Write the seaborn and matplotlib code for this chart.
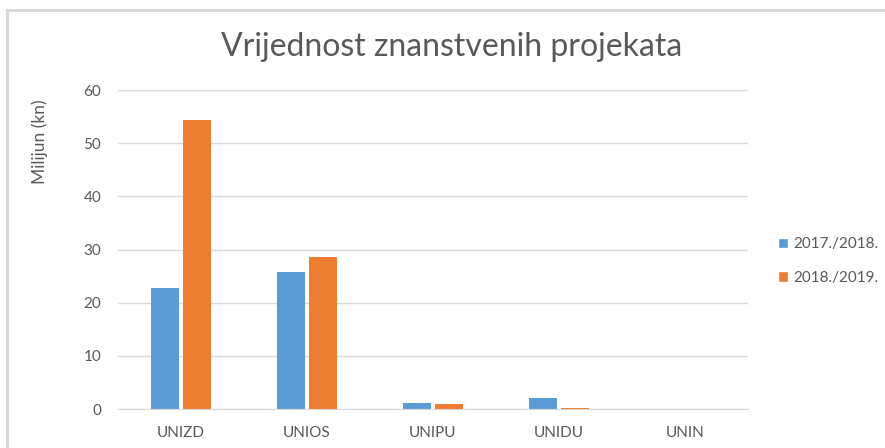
import pandas as pd
import matplotlib
matplotlib.use('Agg')
import matplotlib.pyplot as plt
import seaborn as sns
from matplotlib.patches import Rectangle

# Values (milijun kn)
sveucilista = ['UNIZD', 'UNIOS', 'UNIPU', 'UNIDU', 'UNIN']
godine = ['2017./2018.', '2018./2019.']
vrijednost_1718 = [22.7, 25.75, 1.1, 2.1, 0.0]
vrijednost_1819 = [54.4, 28.5, 0.95, 0.25, 0.0]
boje = ['#5B9BD5', '#ED7D31']

df = pd.DataFrame({
    'sveuciliste': sveucilista * 2,
    'godina': [godine[0]] * len(sveucilista) + [godine[1]] * len(sveucilista),
    'vrijednost': vrijednost_1718 + vrijednost_1819,
})

sns.set_style('white')
plt.rcParams['font.family'] = ['Lato', 'DejaVu Sans']
siva = '#595959'

fig = plt.figure(figsize=(8.85, 4.48), dpi=100)
W, H = 885, 448

# chart frame (top + left edges visible)
fig.patches.append(Rectangle((7 / W, -0.1), 1.2, (H - 10) / H + 0.1,
                             transform=fig.transFigure, fill=False,
                             edgecolor='#d9d9d9', linewidth=2.2))

ax = fig.add_axes([118 / W, (H - 409) / H, 630 / W, 319 / H])
sns.barplot(data=df, x='sveuciliste', y='vrijednost', hue='godina',
            palette=boje, width=0.5, gap=0.11, saturation=1,
            linewidth=0, ax=ax, legend=False)

ax.set_ylim(0, 60)
ax.set_xlim(-0.5, 4.5)
ax.set_yticks(range(0, 61, 10))
ax.yaxis.grid(True, color='#d9d9d9', linewidth=1)
ax.set_axisbelow(True)
for s in ['top', 'right', 'left']:
    ax.spines[s].set_visible(False)
ax.spines['bottom'].set_color('#d9d9d9')
ax.tick_params(axis='y', length=0, pad=12, labelsize=11, labelcolor=siva)
ax.tick_params(axis='x', length=0, pad=12, labelsize=11, labelcolor=siva)
ax.set_xlabel('')
ax.set_ylabel('Milijun (kn)', fontsize=12.5, color=siva)
ax.yaxis.set_label_coords(-70 / 630, (409 - 142) / 319)

fig.text(452 / W, 1 - 47 / H, 'Vrijednost znanstvenih projekata',
         ha='center', va='center', fontsize=23, color=siva)

handles = [Rectangle((0, 0), 1, 1, facecolor=c) for c in boje]
fig.legend(handles, godine, loc='center left',
           bbox_to_anchor=(764 / W, 1 - 261 / H), frameon=False,
           fontsize=11, labelcolor=siva, handlelength=0.7, handleheight=0.7,
           handletextpad=0.3, labelspacing=1.25)

fig.savefig('out.png', dpi=100, facecolor='white')
